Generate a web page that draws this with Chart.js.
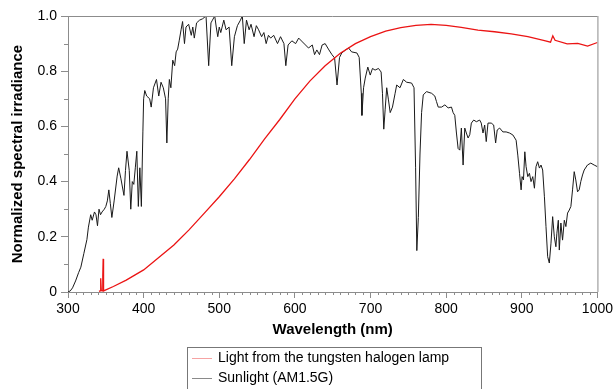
<!DOCTYPE html>
<html>
<head>
<meta charset="utf-8">
<script src="https://cdn.jsdelivr.net/npm/chart.js@4.4.0/dist/chart.umd.min.js"></script>
<style>
  html, body { margin: 0; padding: 0; background: #fff; }
  canvas { display: block; }
</style>
</head>
<body>
<canvas id="spectrum-chart" width="616" height="389"></canvas>
<script>
const seriesLabels = ['Light from the tungsten halogen lamp', 'Sunlight (AM1.5G)'];
const yTickLabels = ['0', '0.2', '0.4', '0.6', '0.8', '1.0'];

const lampWl = [341, 342.5, 343, 343.5, 344, 345.5, 346, 346.5, 347, 350, 360, 377, 400, 420, 440, 460, 480, 500,
  520, 540, 560, 580, 600, 620, 640, 660, 680, 700, 720, 740, 760, 780, 800, 820, 842, 864, 886,
  908, 930, 938, 941, 944, 960, 974, 987, 1000];
const lampVal = [0.002, 0.004, 0.03, 0.05, 0.006, 0.004, 0.06, 0.12, 0.004, 0.008, 0.02, 0.043, 0.08, 0.125, 0.17, 0.225, 0.285, 0.345,
  0.41, 0.48, 0.555, 0.625, 0.70, 0.765, 0.82, 0.865, 0.90, 0.925, 0.945, 0.958, 0.966, 0.97, 0.966, 0.959, 0.949, 0.943, 0.935,
  0.925, 0.911, 0.905, 0.928, 0.912, 0.899, 0.901, 0.891, 0.904];

const sunWl = [300, 303, 306, 310, 314, 317, 321, 325, 327, 330, 332, 335, 337, 339, 341, 343, 345, 348, 350, 352,
  354, 356, 358, 361, 365, 367, 370, 374, 376, 378, 381, 383, 385, 387, 389, 391, 393, 395, 397, 399,
  400, 401.5, 404, 408, 410, 413, 417, 420, 423, 426, 429, 430.7, 432.5, 434, 436, 438.5, 441, 443, 445, 447,
  449.5, 451.5, 454, 456, 459.5, 463, 465, 467, 470, 474, 478, 482.5, 486, 489, 491, 494, 496, 498, 500, 502,
  506, 509, 513, 516.5, 520, 524, 528, 530.5, 533, 536, 539.5, 542, 546, 549, 552, 556, 559, 562, 565, 568,
  572, 577, 581, 585.5, 588, 591, 596, 601, 605, 610, 614, 618, 623, 626, 629, 632.5, 636, 640, 645, 649,
  652.5, 655.7, 659, 662, 667, 671, 675, 682, 685, 687.8, 688.6, 690.8, 693, 696.4, 699.6, 702.6, 706, 710.5, 714, 715.8,
  717.5, 719.3, 721.4, 723.7, 726, 729, 732.5, 734.6, 739, 743.4, 747.8, 754.3, 757.5, 759.6, 761.2, 763.2, 765.4, 767.5, 769.7, 774,
  780.7, 785, 787.2, 789.5, 794, 798.3, 802.6, 807, 809.2, 811.4, 813.6, 815.8, 818, 820.1, 822.4, 824.6, 826.7, 829, 831.2, 833.3,
  836.4, 840, 844.3, 846.4, 848.7, 850.9, 853, 855.3, 859.6, 862.8, 865.4, 867.5, 870.7, 875, 879.3, 883.8, 888.2, 892.5, 894.7, 897,
  899.1, 900.4, 902.2, 904, 905.7, 907.9, 910.1, 912.2, 914.5, 916.7, 918.8, 921, 923.3, 925.4, 927.6, 929.9, 932, 934.2, 936.4, 938.6,
  940.8, 943, 945.1, 946.4, 948.3, 949.6, 951.7, 953.9, 956.2, 958.3, 960.5, 962.8, 964.9, 967.1, 969.3, 971.4, 973.7, 975.9, 978, 980.3,
  982.5, 986.8, 991.2, 995.7, 1000];
const sunVal = [0, 0.004, 0.015, 0.04, 0.07, 0.09, 0.14, 0.19, 0.235, 0.28, 0.26, 0.29, 0.28, 0.24, 0.30, 0.28, 0.29, 0.30, 0.31, 0.33,
  0.37, 0.32, 0.27, 0.33, 0.42, 0.45, 0.41, 0.35, 0.44, 0.51, 0.44, 0.30, 0.40, 0.39, 0.45, 0.51, 0.31, 0.45, 0.31, 0.58,
  0.70, 0.73, 0.71, 0.70, 0.67, 0.74, 0.77, 0.71, 0.76, 0.74, 0.70, 0.54, 0.70, 0.77, 0.74, 0.84, 0.82, 0.87, 0.88, 0.91,
  0.95, 0.98, 0.90, 0.96, 0.97, 0.93, 0.96, 0.92, 0.975, 0.985, 0.99, 1.0, 0.82, 0.975, 0.985, 1.0, 0.96, 0.925, 0.96, 0.94,
  0.985, 0.95, 0.96, 0.82, 0.925, 0.965, 0.985, 1.0, 0.90, 0.985, 0.95, 0.97, 0.925, 0.965, 0.95, 0.925, 0.94, 0.90, 0.93, 0.92,
  0.93, 0.90, 0.925, 0.90, 0.82, 0.895, 0.91, 0.90, 0.92, 0.906, 0.895, 0.884, 0.895, 0.86, 0.877, 0.86, 0.895, 0.90, 0.877, 0.86,
  0.848, 0.75, 0.85, 0.866, 0.877, 0.884, 0.87, 0.866, 0.85, 0.72, 0.64, 0.74, 0.775, 0.815, 0.786, 0.81, 0.804, 0.81, 0.797, 0.72,
  0.59, 0.66, 0.74, 0.696, 0.65, 0.67, 0.72, 0.75, 0.74, 0.77, 0.76, 0.757, 0.74, 0.45, 0.15, 0.27, 0.50, 0.65, 0.714, 0.726,
  0.72, 0.71, 0.69, 0.67, 0.67, 0.678, 0.667, 0.67, 0.65, 0.64, 0.576, 0.52, 0.514, 0.594, 0.46, 0.594, 0.576, 0.558, 0.57, 0.612,
  0.623, 0.617, 0.623, 0.612, 0.576, 0.605, 0.545, 0.612, 0.612, 0.605, 0.54, 0.587, 0.594, 0.58, 0.58, 0.576, 0.569, 0.55, 0.496, 0.43,
  0.37, 0.418, 0.406, 0.508, 0.454, 0.418, 0.43, 0.40, 0.418, 0.376, 0.454, 0.472, 0.449, 0.46, 0.442, 0.345, 0.237, 0.128, 0.105, 0.177,
  0.273, 0.2, 0.164, 0.213, 0.26, 0.152, 0.25, 0.188, 0.26, 0.237, 0.286, 0.297, 0.31, 0.37, 0.436, 0.406, 0.363, 0.37, 0.40, 0.424,
  0.442, 0.46, 0.467, 0.46, 0.454];

const axisGray = '#8c8c8c';
const fontFamily = '"Liberation Sans", Arial, Helvetica, sans-serif';

// minor ticks, top/right frame and the boxed legend
const framePlugin = {
  id: 'frame',
  afterDraw(chart) {
    const { ctx, chartArea } = chart;
    const xs = chart.scales.x;
    const ys = chart.scales.y;
    ctx.save();
    ctx.strokeStyle = axisGray;
    ctx.lineWidth = 1;
    ctx.beginPath();
    for (let v = 310; v < 1000; v += 10) {
      if (v % 100 === 0) continue;
      const px = Math.round(xs.getPixelForValue(v)) + 0.5;
      ctx.moveTo(px, chartArea.bottom);
      ctx.lineTo(px, chartArea.bottom + 3);
    }
    for (let v = 0.1; v < 1; v += 0.2) {
      const py = Math.round(ys.getPixelForValue(v)) + 0.5;
      ctx.moveTo(chartArea.left - 4, py);
      ctx.lineTo(chartArea.left, py);
    }
    ctx.moveTo(chartArea.left, chartArea.top + 0.5);
    ctx.lineTo(chartArea.right, chartArea.top + 0.5);
    ctx.moveTo(chartArea.right + 0.5, chartArea.top);
    ctx.lineTo(chartArea.right + 0.5, chartArea.bottom);
    ctx.stroke();

    // legend box
    ctx.strokeStyle = '#777';
    ctx.strokeRect(187.5, 347.5, 294, 48);
    const sampleColors = ['#f6a3a3', '#8a8a8a'];
    ctx.font = '14px ' + fontFamily;
    ctx.textBaseline = 'middle';
    ctx.fillStyle = '#000';
    chart.data.datasets.forEach((ds, i) => {
      const y = 358 + i * 20;
      ctx.strokeStyle = sampleColors[i];
      ctx.beginPath();
      ctx.moveTo(192, y + 0.5);
      ctx.lineTo(212, y + 0.5);
      ctx.stroke();
      ctx.fillText(ds.label, 218, y);
    });
    ctx.restore();
  }
};

const ctx = document.getElementById('spectrum-chart').getContext('2d');

window.myChart = new Chart(ctx, {
  type: 'line',
  data: {
    datasets: [{
      label: seriesLabels[0],
      data: lampWl.map((w, i) => ({ x: w, y: lampVal[i] })),
      borderColor: 'rgb(235, 20, 20)',
      borderWidth: 1.3,
      pointRadius: 0,
      tension: 0
    }, {
      label: seriesLabels[1],
      data: sunWl.map((w, i) => ({ x: w, y: sunVal[i] })),
      borderColor: '#1a1a1a',
      borderWidth: 1,
      pointRadius: 0,
      tension: 0
    }]
  },
  options: {
    responsive: false,
    animation: false,
    devicePixelRatio: 1,
    layout: {
      padding: { left: 0, top: 16, right: 16, bottom: 42 }
    },
    scales: {
      x: {
        type: 'linear',
        min: 300,
        max: 1000,
        afterFit: s => { s.height = 55; },
        ticks: {
          stepSize: 100,
          autoSkip: false,
          maxRotation: 0,
          padding: 3,
          color: '#000',
          font: { family: fontFamily, size: 14 },
          callback: v => String(v)
        },
        grid: { drawOnChartArea: false, tickLength: 6, color: axisGray },
        border: { color: axisGray },
        title: {
          display: true,
          text: 'Wavelength (nm)',
          color: '#000',
          font: { family: fontFamily, size: 15, weight: 'bold' },
          padding: { top: 0, bottom: 8 }
        }
      },
      y: {
        min: 0,
        max: 1,
        afterFit: s => { s.width = 68; },
        ticks: {
          stepSize: 0.2,
          padding: 4,
          color: '#000',
          font: { family: fontFamily, size: 14 },
          callback: (v, i) => yTickLabels[i]
        },
        grid: { drawOnChartArea: false, tickLength: 7, color: axisGray },
        border: { color: axisGray },
        title: {
          display: true,
          text: 'Normalized spectral irradiance',
          color: '#000',
          font: { family: fontFamily, size: 15, weight: 'bold' },
          padding: { top: 9, bottom: 0 }
        }
      }
    },
    plugins: {
      legend: { display: false },
      tooltip: { enabled: false }
    }
  },
  plugins: [framePlugin]
});
</script>
</body>
</html>
